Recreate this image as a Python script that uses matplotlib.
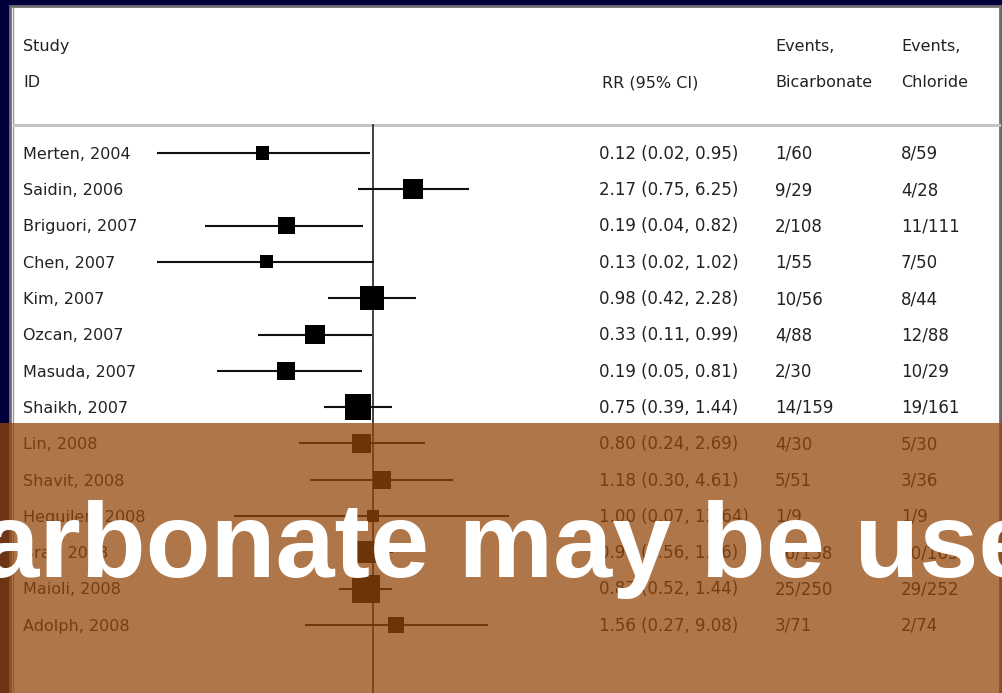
import numpy as np
import matplotlib.pyplot as plt
from matplotlib.patches import Rectangle
from matplotlib import transforms

# study data
studies = ["Merten, 2004", "Saidin, 2006", "Briguori, 2007", "Chen, 2007",
           "Kim, 2007", "Ozcan, 2007", "Masuda, 2007", "Shaikh, 2007",
           "Lin, 2008", "Shavit, 2008", "Heguilen, 2008", "Brar, 2008",
           "Maioli, 2008", "Adolph, 2008"]
rr = np.array([0.12, 2.17, 0.19, 0.13, 0.98, 0.33, 0.19, 0.75,
               0.80, 1.18, 1.00, 0.90, 0.87, 1.56])
ci_lo = np.array([0.016, 0.75, 0.04, 0.016, 0.42, 0.11, 0.05, 0.39,
                  0.24, 0.30, 0.07, 0.56, 0.52, 0.27])
ci_hi = np.array([0.95, 6.25, 0.82, 1.02, 2.28, 0.99, 0.81, 1.44,
                  2.69, 4.61, 13.64, 1.46, 1.44, 9.08])
weight = np.array([3.2, 7.5, 5.4, 3.2, 10.8, 7.5, 6.1, 12.7,
                   6.8, 6.1, 2.3, 9.1, 14.7, 4.8])
rr_labels = ["0.12 (0.02, 0.95)", "2.17 (0.75, 6.25)", "0.19 (0.04, 0.82)",
             "0.13 (0.02, 1.02)", "0.98 (0.42, 2.28)", "0.33 (0.11, 0.99)",
             "0.19 (0.05, 0.81)", "0.75 (0.39, 1.44)", "0.80 (0.24, 2.69)",
             "1.18 (0.30, 4.61)", "1.00 (0.07, 13.64)", "0.90 (0.56, 1.46)",
             "0.87 (0.52, 1.44)", "1.56 (0.27, 9.08)"]
ev_bicarb = ["1/60", "9/29", "2/108", "1/55", "10/56", "4/88", "2/30",
             "14/159", "4/30", "5/51", "1/9", "26/158", "25/250", "3/71"]
ev_chloride = ["8/59", "4/28", "11/111", "7/50", "8/44", "12/88", "10/29",
               "19/161", "5/30", "3/36", "1/9", "30/165", "29/252", "2/74"]

W, H = 1002, 693
navy = "#00003a"
ink = "#222222"
fs = 11.5

fig = plt.figure(figsize=(W / 100, H / 100), dpi=100, facecolor=navy)

# background axes in pixel coordinates (panel, header)
base = fig.add_axes([0, 0, 1, 1])
base.set_xlim(0, W)
base.set_ylim(H, 0)
base.axis("off")
base.add_patch(Rectangle((10.5, 5.5), 989.5, 700, facecolor="white",
                         edgecolor="#6e6e6e", lw=2))
base.plot([13.5, 13.5], [8, H], color="#9a9a9a", lw=1)
base.plot([14, 999], [125, 125], color="#c4c4c4", lw=2.2)

hdr = dict(fontsize=fs, color=ink, va="baseline", family="DejaVu Sans")
base.text(23, 51, "Study", **hdr)
base.text(23, 87, "ID", **hdr)
base.text(602, 87, "RR (95% CI)", **hdr)
base.text(775, 51, "Events,", **hdr)
base.text(775, 87, "Bicarbonate", **hdr)
base.text(901, 51, "Events,", **hdr)
base.text(901, 87, "Chloride", **hdr)

# forest axes: log scale, 1 at x=373 px, 120 px per decade
ax = fig.add_axes([0, 0, 1, 1], facecolor="none")
ax.set_xscale("log")
ax.set_xlim(10 ** (-373 / 120), 10 ** ((W - 373) / 120))
row_px = 36.3
ax.set_ylim((H - 153) / row_px, -153 / row_px)
ax.axis("off")

rows = np.arange(len(studies))
ax.axvline(1, ymin=0, ymax=1 - 125 / H, color="#333333", lw=1.3)
ax.hlines(rows, ci_lo, ci_hi, color="#111111", lw=1.5)
side_px = 7.27 * np.sqrt(weight)
ax.scatter(rr, rows, marker="s", s=(side_px * 0.72) ** 2, color="black",
           linewidths=0, zorder=3)

num = dict(hdr, fontsize=12)
tr = transforms.blended_transform_factory(ax.transAxes, ax.transData)
for i in rows:
    y = i + 0.16
    ax.text(23 / W, y, studies[i], transform=tr, **hdr)
    ax.text(599 / W, y, rr_labels[i], transform=tr, **num)
    ax.text(775 / W, y, ev_bicarb[i], transform=tr, **num)
    ax.text(901 / W, y, ev_chloride[i], transform=tr, **num)

# translucent orange banner over the lower part
fig.patches.append(Rectangle((0, 0), 1, 1 - 423 / H, transform=fig.transFigure,
                             facecolor="#94480a", alpha=0.74, lw=0, zorder=5))
fig.text(-185 / W, 1 - 577 / H, "Bicarbonate may be used", fontsize=76.5,
         fontweight="bold", family="Liberation Sans", color="white",
         va="baseline", zorder=6)
fig.text(457 / W, 1 - 771 / H, "to help prevent CIN", fontsize=76.5,
         fontweight="bold", family="Liberation Sans", color="white",
         va="baseline", ha="center", zorder=6)

fig.savefig("out.png", dpi=100, facecolor=navy)
